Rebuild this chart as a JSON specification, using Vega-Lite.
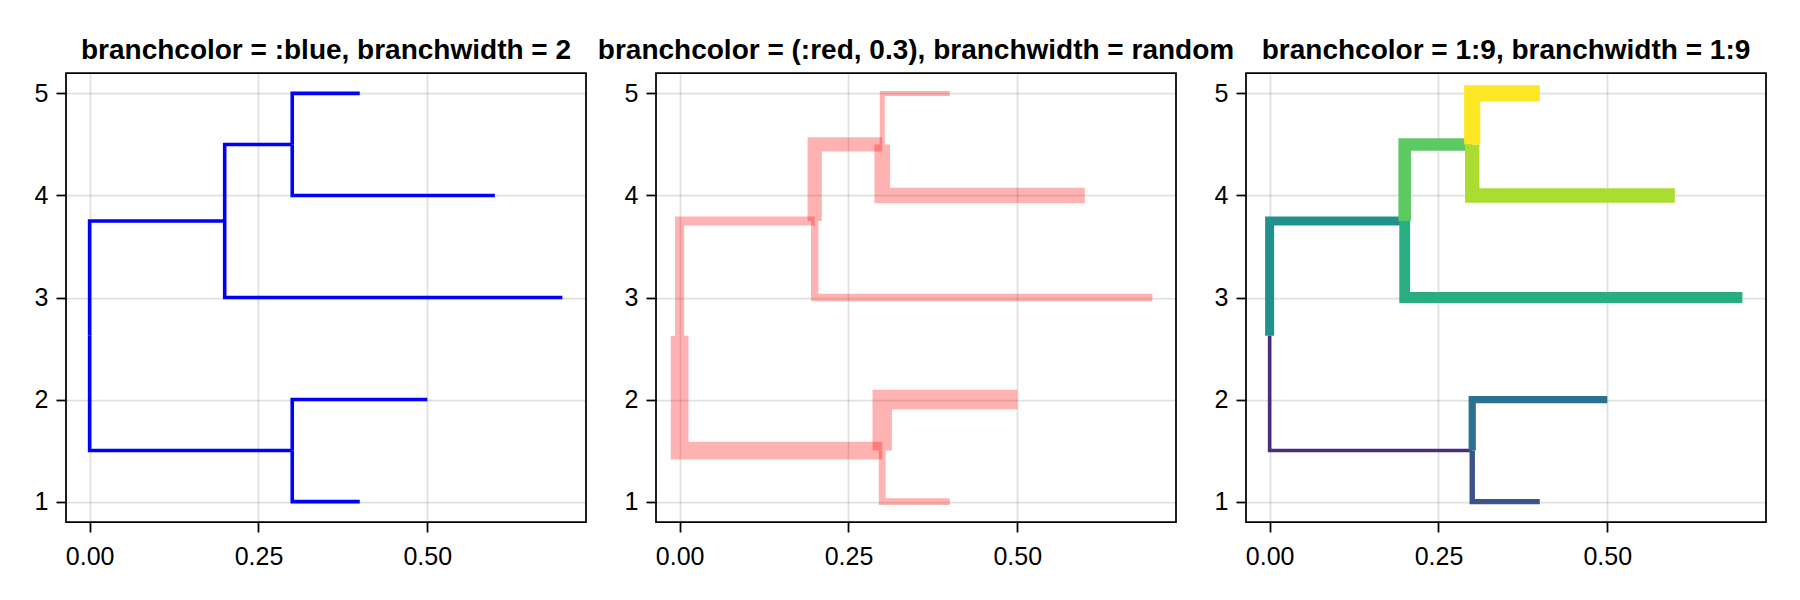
{
  "$schema": "https://vega.github.io/schema/vega-lite/v6.json",
  "padding": {"left": 33, "top": 36, "right": 5, "bottom": 5},
  "background": "white",
  "spacing": 70,
  "bounds": "flush",
  "datasets": {
    "tree": [
      {"branch": 1, "ord": 0, "x": 0, "y": 2.625, "rw": 9.8, "idx": 2},
      {"branch": 1, "ord": 1, "x": 0, "y": 1.5, "rw": 9.8, "idx": 2},
      {"branch": 1, "ord": 2, "x": 0.3, "y": 1.5, "rw": 9.8, "idx": 2},
      {"branch": 2, "ord": 0, "x": 0.3, "y": 1.5, "rw": 3.8, "idx": 3},
      {"branch": 2, "ord": 1, "x": 0.3, "y": 1, "rw": 3.8, "idx": 3},
      {"branch": 2, "ord": 2, "x": 0.4, "y": 1, "rw": 3.8, "idx": 3},
      {"branch": 3, "ord": 0, "x": 0.3, "y": 1.5, "rw": 10.8, "idx": 4},
      {"branch": 3, "ord": 1, "x": 0.3, "y": 2, "rw": 10.8, "idx": 4},
      {"branch": 3, "ord": 2, "x": 0.5, "y": 2, "rw": 10.8, "idx": 4},
      {"branch": 4, "ord": 0, "x": 0, "y": 2.625, "rw": 5.1, "idx": 5},
      {"branch": 4, "ord": 1, "x": 0, "y": 3.75, "rw": 5.1, "idx": 5},
      {"branch": 4, "ord": 2, "x": 0.2, "y": 3.75, "rw": 5.1, "idx": 5},
      {"branch": 5, "ord": 0, "x": 0.2, "y": 3.75, "rw": 4.1, "idx": 6},
      {"branch": 5, "ord": 1, "x": 0.2, "y": 3, "rw": 4.1, "idx": 6},
      {"branch": 5, "ord": 2, "x": 0.7, "y": 3, "rw": 4.1, "idx": 6},
      {"branch": 6, "ord": 0, "x": 0.2, "y": 3.75, "rw": 7.9, "idx": 7},
      {"branch": 6, "ord": 1, "x": 0.2, "y": 4.5, "rw": 7.9, "idx": 7},
      {"branch": 6, "ord": 2, "x": 0.3, "y": 4.5, "rw": 7.9, "idx": 7},
      {"branch": 7, "ord": 0, "x": 0.3, "y": 4.5, "rw": 8.7, "idx": 8},
      {"branch": 7, "ord": 1, "x": 0.3, "y": 4, "rw": 8.7, "idx": 8},
      {"branch": 7, "ord": 2, "x": 0.6, "y": 4, "rw": 8.7, "idx": 8},
      {"branch": 8, "ord": 0, "x": 0.3, "y": 4.5, "rw": 2.8, "idx": 9},
      {"branch": 8, "ord": 1, "x": 0.3, "y": 5, "rw": 2.8, "idx": 9},
      {"branch": 8, "ord": 2, "x": 0.4, "y": 5, "rw": 2.8, "idx": 9}
    ]
  },
  "hconcat": [
    {
      "title": {"text": "branchcolor = :blue, branchwidth = 2"},
      "width": 520,
      "height": 449,
      "data": {"name": "tree"},
      "mark": {"type": "line", "color": "#0000ff", "strokeWidth": 3.6, "strokeJoin": "miter", "strokeCap": "butt", "clip": true},
      "encoding": {
        "x": {"field": "x", "type": "quantitative", "scale": {"domain": [-0.035, 0.735], "nice": false, "zero": false}, "axis": {"values": [0, 0.25, 0.5], "format": ".2f", "title": null}},
        "y": {"field": "y", "type": "quantitative", "scale": {"domain": [0.8, 5.2], "nice": false, "zero": false}, "axis": {"values": [1, 2, 3, 4, 5], "format": "d", "title": null}},
        "detail": {"field": "branch", "type": "nominal"},
        "order": {"field": "ord", "type": "quantitative"}
      }
    },
    {
      "title": {"text": "branchcolor = (:red, 0.3), branchwidth = random"},
      "width": 520,
      "height": 449,
      "data": {"name": "tree"},
      "mark": {"type": "line", "color": "#ff0000", "strokeOpacity": 0.3, "strokeJoin": "miter", "strokeCap": "butt", "clip": true},
      "encoding": {
        "x": {"field": "x", "type": "quantitative", "scale": {"domain": [-0.035, 0.735], "nice": false, "zero": false}, "axis": {"values": [0, 0.25, 0.5], "format": ".2f", "title": null}},
        "y": {"field": "y", "type": "quantitative", "scale": {"domain": [0.8, 5.2], "nice": false, "zero": false}, "axis": {"values": [1, 2, 3, 4, 5], "format": "d", "title": null}},
        "strokeWidth": {"field": "rw", "type": "quantitative", "scale": {"domain": [0, 10], "range": [0, 18]}, "legend": null},
        "detail": {"field": "branch", "type": "nominal"},
        "order": {"field": "ord", "type": "quantitative"}
      }
    },
    {
      "title": {"text": "branchcolor = 1:9, branchwidth = 1:9"},
      "width": 520,
      "height": 449,
      "data": {"name": "tree"},
      "mark": {"type": "line", "strokeJoin": "miter", "strokeCap": "butt", "clip": true},
      "encoding": {
        "x": {"field": "x", "type": "quantitative", "scale": {"domain": [-0.035, 0.735], "nice": false, "zero": false}, "axis": {"values": [0, 0.25, 0.5], "format": ".2f", "title": null}},
        "y": {"field": "y", "type": "quantitative", "scale": {"domain": [0.8, 5.2], "nice": false, "zero": false}, "axis": {"values": [1, 2, 3, 4, 5], "format": "d", "title": null}},
        "color": {"field": "idx", "type": "quantitative", "scale": {"scheme": "viridis", "domain": [1, 9]}, "legend": null},
        "strokeWidth": {"field": "idx", "type": "quantitative", "scale": {"domain": [0, 10], "range": [0, 18]}, "legend": null},
        "detail": {"field": "branch", "type": "nominal"},
        "order": {"field": "ord", "type": "quantitative"}
      }
    }
  ],
  "config": {
    "font": "Liberation Sans",
    "view": {"stroke": "#000000", "strokeWidth": 1.75},
    "axis": {
      "domain": false,
      "grid": true,
      "gridColor": "#000000",
      "gridOpacity": 0.12,
      "gridWidth": 1.75,
      "ticks": true,
      "tickColor": "#000000",
      "tickSize": 10,
      "tickWidth": 1.75,
      "labelFont": "Liberation Sans",
      "labelFontSize": 25,
      "labelColor": "#000000",
      "labelPadding": 8
    },
    "axisX": {"labelPadding": 12},
    "title": {
      "font": "Liberation Sans",
      "fontSize": 28,
      "fontWeight": "bold",
      "color": "#000000",
      "anchor": "middle",
      "baseline": "alphabetic",
      "offset": 8
    }
  }
}
